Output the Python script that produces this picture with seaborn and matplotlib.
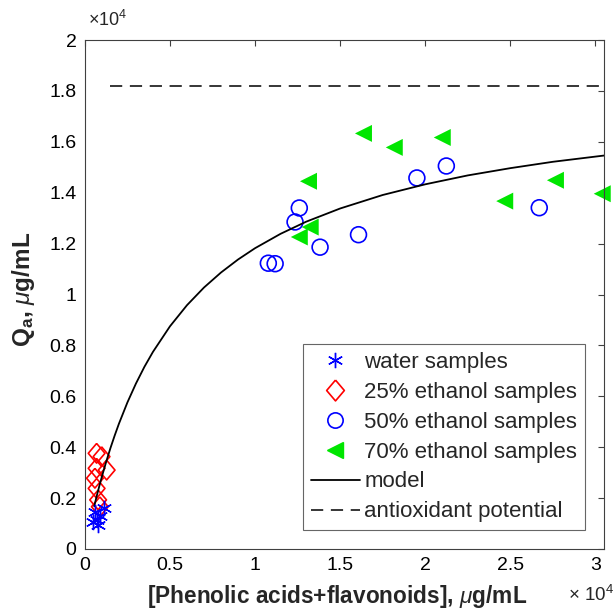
import numpy as np
import pandas as pd
import seaborn as sns
import matplotlib.pyplot as plt
from matplotlib.lines import Line2D
from matplotlib.ticker import FuncFormatter, MultipleLocator

# data (ug/mL)
water_x = [500, 700, 900, 1100, 600, 800]
water_y = [1050, 1150, 1300, 1600, 1450, 950]

eth25_x = [690, 980, 1280, 690, 590, 690, 780, 880]
eth25_y = [3760, 3630, 3100, 3170, 2780, 2380, 1930, 1660]

eth50_x = [10780, 11180, 12350, 12600, 13820, 16080, 19510, 21240, 26700]
eth50_y = [11230, 11210, 12850, 13400, 11860, 12350, 14580, 15050, 13410]

eth70_x = [12600, 13140, 13240, 16370, 18180, 21000, 24670, 27650, 30400]
eth70_y = [12260, 14450, 12650, 16330, 15780, 16170, 13670, 14490, 13960]

# model curve, points taken along the drawn line
model_x = [550, 700, 850, 1000, 1250, 1500, 1750, 2000, 2500, 3000, 3500,
           4000, 5000, 6000, 7000, 8000, 9000, 10000, 11500, 13000, 15000,
           17500, 20000, 22500, 25000, 27500, 30500]
model_y = [1680, 2090, 2475, 2845, 3420, 3960, 4455, 4920, 5760, 6500, 7160,
           7745, 8750, 9580, 10275, 10865, 11375, 11820, 12385, 12860, 13380,
           13910, 14330, 14680, 14965, 15215, 15460]

potential_x = [1500, 30500]
potential_y = [18200, 18200]

sns.set_style('white')
plt.rcParams['font.family'] = ['Liberation Sans', 'DejaVu Sans']
plt.rcParams['mathtext.fontset'] = 'custom'
plt.rcParams['mathtext.it'] = 'Liberation Sans:italic'
plt.rcParams['mathtext.bf'] = 'Liberation Sans:bold'
plt.rcParams['mathtext.rm'] = 'Liberation Sans'

diamond = [(0, 1), (0.85, 0), (0, -1), (-0.85, 0), (0, 1)]
dash = (0, (8, 5))

fig = plt.figure(figsize=(6.15, 6.11), dpi=100)
ax = fig.add_axes([0.138, 0.1015, 0.844, 0.833])

sns.lineplot(x=model_x, y=model_y, color='black', linewidth=1.3, sort=False, ax=ax)
sns.lineplot(x=potential_x, y=potential_y, color='black', linewidth=1.1, ax=ax,
             linestyle=dash)

sns.scatterplot(x=eth25_x, y=eth25_y, marker=diamond, s=200, facecolor='none',
                edgecolor='red', linewidth=1.2, ax=ax, clip_on=False)
sns.scatterplot(x=eth50_x, y=eth50_y, marker='o', s=130, facecolor='none',
                edgecolor='blue', linewidth=1.2, ax=ax, clip_on=False)
sns.scatterplot(x=eth70_x, y=eth70_y, marker='<', s=150, color='#00e600',
                edgecolor='none', ax=ax, clip_on=False)
ax.plot(water_x, water_y, linestyle='none', marker=(6, 2, 0), markersize=11,
        markeredgecolor='blue', markeredgewidth=1.0, clip_on=False)

ax.set_xlim(0, 30500)
ax.set_ylim(0, 20000)
ax.xaxis.set_major_locator(MultipleLocator(5000))
ax.yaxis.set_major_locator(MultipleLocator(2000))
fmt = FuncFormatter(lambda v, p: f'{v / 1e4:g}')
ax.xaxis.set_major_formatter(fmt)
ax.yaxis.set_major_formatter(fmt)
ax.tick_params(direction='in', length=4, width=0.8, colors='#404040',
               labelsize=14, top=True, right=True, pad=6)
ax.tick_params(axis='x', labelcolor='black')
ax.tick_params(axis='y', labelcolor='black')
for s in ax.spines.values():
    s.set_color('#404040')
    s.set_linewidth(0.8)

ax.set_xlabel(r'[Phenolic acids+flavonoids], $\mu$g/mL', fontsize=16.3,
              fontweight='bold')
ax.xaxis.set_label_coords(0.486, -0.067)
ax.set_ylabel(r'Q$_{\mathbf{a}}$, $\mu$g/mL', fontsize=17.5, fontweight='bold')
ax.yaxis.set_label_coords(-0.092, 0.51)

fig.text(88 / 615, 1 - 20 / 611, r'$\times$10$^4$', fontsize=13,
         ha='left', va='center')
fig.text(614 / 615, 1 - 595 / 611, r'$\times$ 10$^4$', fontsize=13.5,
         ha='right', va='center')

handles = [
    Line2D([], [], linestyle='none', marker=(6, 2, 0), markersize=11,
           markeredgecolor='blue', markeredgewidth=1.0),
    Line2D([], [], linestyle='none', marker=diamond, markersize=15,
           markerfacecolor='none', markeredgecolor='red', markeredgewidth=1.2),
    Line2D([], [], linestyle='none', marker='o', markersize=11,
           markerfacecolor='none', markeredgecolor='blue', markeredgewidth=1.2),
    Line2D([], [], linestyle='none', marker='<', markersize=12,
           color='#00e600'),
    Line2D([], [], color='black', linewidth=1.3),
    Line2D([], [], color='black', linewidth=1.1, linestyle=dash),
]
labels = ['water samples', '25% ethanol samples', '50% ethanol samples',
          '70% ethanol samples', 'model', 'antioxidant potential']
leg = ax.legend(handles, labels, loc='lower right', fontsize=16, frameon=True,
                fancybox=False, edgecolor='#404040', borderaxespad=0.85,
                handlelength=2.2, handletextpad=0.2, labelspacing=0.4,
                borderpad=0.35)
leg.get_frame().set_linewidth(0.8)

fig.savefig('out.png', dpi=100)
